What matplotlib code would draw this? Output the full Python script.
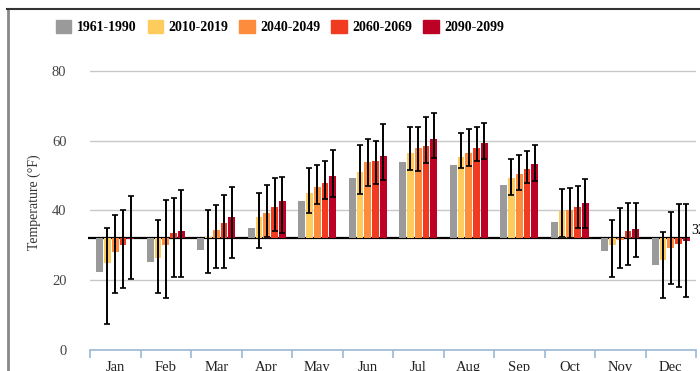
import numpy as np
import matplotlib
matplotlib.use('Agg')
import matplotlib.pyplot as plt
from matplotlib.patches import Patch
from matplotlib.lines import Line2D

plt.rcParams['font.family'] = ['Liberation Serif', 'DejaVu Serif']

months = ['Jan', 'Feb', 'Mar', 'Apr', 'May', 'Jun', 'Jul', 'Aug', 'Sep', 'Oct', 'Nov', 'Dec']
periods = ['1961-1990', '2010-2019', '2040-2049', '2060-2069', '2090-2099']
colors = ['#9a9a9a', '#fecc5c', '#fd8d3c', '#f03b20', '#bd0026']

# monthly mean temperature (F) per period
base_1961 = [22.4, 25.3, 28.7, 35.1, 42.8, 49.4, 54.0, 53.0, 47.3, 36.8, 28.4, 24.4]
t_2010 = [25.0, 26.3, 32.3, 38.0, 44.9, 51.1, 56.4, 55.4, 49.2, 39.8, 30.1, 25.8]
t_2040 = [28.0, 30.1, 34.4, 39.3, 46.6, 54.0, 57.8, 56.4, 50.4, 40.1, 31.5, 29.1]
t_2060 = [30.1, 33.4, 36.5, 41.1, 47.9, 54.2, 58.5, 57.8, 51.8, 41.1, 34.1, 30.3]
t_2090 = [31.7, 34.2, 38.0, 42.8, 49.9, 55.6, 60.4, 59.2, 53.3, 42.2, 34.6, 31.2]

# model range (low / high) for the projected periods
lo_2010 = [7.4, 16.2, 22.2, 29.1, 39.2, 44.7, 51.6, 52.1, 44.5, 32.3, 21.0, 14.8]
hi_2010 = [35.0, 37.2, 40.1, 44.9, 52.2, 58.7, 64.0, 62.1, 54.7, 46.1, 37.2, 33.9]
lo_2040 = [16.2, 14.8, 23.6, 32.3, 41.7, 47.1, 51.4, 52.7, 45.8, 32.0, 23.4, 18.8]
hi_2040 = [38.7, 43.0, 41.5, 47.3, 52.9, 60.5, 64.0, 63.2, 55.9, 46.5, 40.8, 39.6]
lo_2060 = [17.7, 21.0, 23.6, 34.1, 43.4, 47.5, 53.5, 54.2, 47.9, 34.9, 24.4, 18.1]
hi_2060 = [40.1, 43.5, 44.4, 49.2, 54.2, 59.9, 66.8, 64.0, 57.0, 47.1, 42.2, 41.7]
lo_2090 = [20.3, 21.0, 26.4, 33.4, 43.9, 48.7, 54.9, 54.6, 48.5, 34.9, 26.7, 15.3]
hi_2090 = [44.2, 45.8, 46.6, 49.7, 57.3, 64.7, 67.8, 65.0, 58.7, 48.9, 42.2, 41.7]

freezing = 32

series = [base_1961, t_2010, t_2040, t_2060, t_2090]
lows = [None, lo_2010, lo_2040, lo_2060, lo_2090]
highs = [None, hi_2010, hi_2040, hi_2060, hi_2090]

fig = plt.figure(figsize=(7, 3.71), dpi=100)
ax = fig.add_axes([90 / 700, 21 / 371, 606 / 700, 296.6 / 371])

centers = np.arange(12) + 0.5
pitch = 0.155
width = 0.135

for k, (vals, c) in enumerate(zip(series, colors)):
    vals = np.array(vals)
    x = centers + (k - 2) * pitch
    ax.bar(x, vals - freezing, bottom=freezing, width=width, color=c, zorder=3)
    if lows[k] is not None:
        lo = np.array(lows[k])
        hi = np.array(highs[k])
        ax.errorbar(x, vals, yerr=[vals - lo, hi - vals], fmt='none',
                    ecolor='black', elinewidth=1.4, capsize=2, capthick=1.2, zorder=4)

# freezing line
ax.hlines(freezing, -0.04, 11.88, color='black', linewidth=1.6, zorder=2, clip_on=False)
ax.text(11.9, freezing + 0.3, '32', fontsize=10, va='bottom', ha='left', clip_on=False)

ax.set_xlim(0, 12)
ax.set_ylim(0, 85)
ax.set_yticks([0, 20, 40, 60, 80])
ax.tick_params(axis='y', length=0, pad=17, labelsize=10.5, labelcolor='#444444')
ax.yaxis.grid(True, color='#c8c8c8', linewidth=1)
ax.set_axisbelow(True)
ax.set_ylabel('Temperature (°F)', fontsize=10, color='#333333', labelpad=8)

ax.set_xticks(np.arange(13))
ax.set_xticklabels([])
ax.set_xticks(centers, minor=True)
ax.set_xticklabels(months, minor=True, fontsize=10.5, color='#222222')
ax.tick_params(axis='x', which='major', length=6, color='#9bb7d4', width=1.2)
ax.tick_params(axis='x', which='minor', length=0, pad=8)

for side in ['top', 'right', 'left']:
    ax.spines[side].set_visible(False)
ax.spines['bottom'].set_color('#9bb7d4')
ax.spines['bottom'].set_linewidth(1.2)

handles = [Patch(facecolor=c, edgecolor=c) for c in colors]
fig.legend(handles, periods, loc='center', bbox_to_anchor=(0.40, 1 - 27 / 371), ncol=5,
           frameon=False, prop={'weight': 'bold', 'size': 10}, handlelength=1.1,
           handleheight=1.1, handletextpad=0.4, columnspacing=0.8)

# outer frame
fig.add_artist(Line2D([8 / 700, 8 / 700], [0, 1 - 9 / 371], transform=fig.transFigure,
                      color='#888888', linewidth=2))
fig.add_artist(Line2D([7 / 700, 1], [1 - 9 / 371, 1 - 9 / 371], transform=fig.transFigure,
                      color='#333333', linewidth=1.5))

fig.savefig('out.png', dpi=100)
